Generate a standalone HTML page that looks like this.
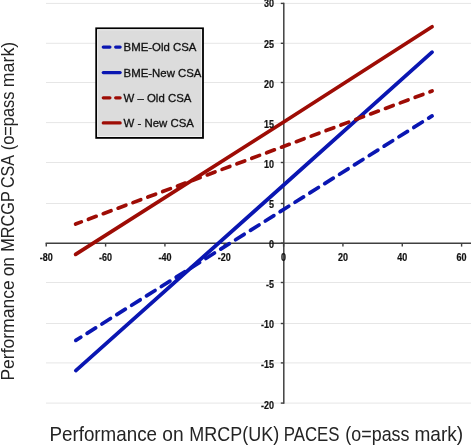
<!DOCTYPE html>
<html><head><meta charset="utf-8"><style>
html,body{margin:0;padding:0;background:#fff;}
body{width:472px;height:445px;overflow:hidden;position:relative;}
svg{position:absolute;left:0;top:0;will-change:transform;}
.t{font-family:"Liberation Sans",sans-serif;font-weight:bold;font-size:10px;fill:#111;stroke:#111;stroke-width:0.2px;}
.lg{font-family:"Liberation Sans",sans-serif;font-size:11.4px;fill:#111;stroke:#111;stroke-width:0.3px;}
.ti{font-family:"Liberation Sans",sans-serif;fill:#242424;}
</style></head><body>
<svg width="472" height="445" viewBox="0 0 472 445">
<line x1="46" y1="3.40" x2="471" y2="3.40" stroke="#e6e6e6" stroke-width="1"/>
<line x1="46" y1="43.30" x2="471" y2="43.30" stroke="#e6e6e6" stroke-width="1"/>
<line x1="46" y1="82.50" x2="471" y2="82.50" stroke="#e6e6e6" stroke-width="1"/>
<line x1="46" y1="122.60" x2="471" y2="122.60" stroke="#e6e6e6" stroke-width="1"/>
<line x1="46" y1="162.50" x2="471" y2="162.50" stroke="#e6e6e6" stroke-width="1"/>
<line x1="46" y1="203.50" x2="471" y2="203.50" stroke="#e6e6e6" stroke-width="1"/>
<line x1="46" y1="282.50" x2="471" y2="282.50" stroke="#e6e6e6" stroke-width="1"/>
<line x1="46" y1="323.50" x2="471" y2="323.50" stroke="#e6e6e6" stroke-width="1"/>
<line x1="46" y1="362.90" x2="471" y2="362.90" stroke="#e6e6e6" stroke-width="1"/>
<line x1="46" y1="403.10" x2="471" y2="403.10" stroke="#e6e6e6" stroke-width="1"/>
<line x1="45.6" y1="243.2" x2="471" y2="243.2" stroke="#404040" stroke-width="1.5"/>
<line x1="283.8" y1="2.80" x2="283.8" y2="403.70" stroke="#404040" stroke-width="1.5"/>
<line x1="280.8" y1="3.40" x2="283.8" y2="3.40" stroke="#404040" stroke-width="1.4"/>
<line x1="280.8" y1="43.30" x2="283.8" y2="43.30" stroke="#404040" stroke-width="1.4"/>
<line x1="280.8" y1="82.50" x2="283.8" y2="82.50" stroke="#404040" stroke-width="1.4"/>
<line x1="280.8" y1="122.60" x2="283.8" y2="122.60" stroke="#404040" stroke-width="1.4"/>
<line x1="280.8" y1="162.50" x2="283.8" y2="162.50" stroke="#404040" stroke-width="1.4"/>
<line x1="280.8" y1="203.50" x2="283.8" y2="203.50" stroke="#404040" stroke-width="1.4"/>
<line x1="280.8" y1="243.10" x2="283.8" y2="243.10" stroke="#404040" stroke-width="1.4"/>
<line x1="280.8" y1="282.50" x2="283.8" y2="282.50" stroke="#404040" stroke-width="1.4"/>
<line x1="280.8" y1="323.50" x2="283.8" y2="323.50" stroke="#404040" stroke-width="1.4"/>
<line x1="280.8" y1="362.90" x2="283.8" y2="362.90" stroke="#404040" stroke-width="1.4"/>
<line x1="280.8" y1="403.10" x2="283.8" y2="403.10" stroke="#404040" stroke-width="1.4"/>
<line x1="46.26" y1="243.2" x2="46.26" y2="246.6" stroke="#404040" stroke-width="1.4"/>
<line x1="105.60" y1="243.2" x2="105.60" y2="246.6" stroke="#404040" stroke-width="1.4"/>
<line x1="164.93" y1="243.2" x2="164.93" y2="246.6" stroke="#404040" stroke-width="1.4"/>
<line x1="224.27" y1="243.2" x2="224.27" y2="246.6" stroke="#404040" stroke-width="1.4"/>
<line x1="283.60" y1="243.2" x2="283.60" y2="246.6" stroke="#404040" stroke-width="1.4"/>
<line x1="342.93" y1="243.2" x2="342.93" y2="246.6" stroke="#404040" stroke-width="1.4"/>
<line x1="402.27" y1="243.2" x2="402.27" y2="246.6" stroke="#404040" stroke-width="1.4"/>
<line x1="461.60" y1="243.2" x2="461.60" y2="246.6" stroke="#404040" stroke-width="1.4"/>
<path d="M75.60,254.40 L283.70,122.00 L432.10,26.80" fill="none" stroke="#9e0c05" stroke-width="3.7" stroke-linecap="round" stroke-linejoin="round"/>
<path d="M75.80,370.60 L283.70,185.00 L432.10,52.20" fill="none" stroke="#0a16b2" stroke-width="3.7" stroke-linecap="round" stroke-linejoin="round"/>
<path d="M75.60,224.00 L81.34,221.86 M88.39,219.23 L96.19,216.32 M103.24,213.69 L111.04,210.78 M118.09,208.15 L125.89,205.24 M132.95,202.61 L140.75,199.70 M147.80,197.06 L155.60,194.16 M162.65,191.52 L170.45,188.61 M177.50,185.98 L185.30,183.07 M192.35,180.44 L200.15,177.53 M207.21,174.90 L215.01,171.99 M222.06,169.36 L229.86,166.45 M236.91,163.82 L244.71,160.91 M251.76,158.28 L259.56,155.37 M266.61,152.74 L274.41,149.83 M281.47,147.20 L289.27,144.29 M296.32,141.66 L304.12,138.75 M311.17,136.12 L318.97,133.21 M326.02,130.57 L333.82,127.66 M340.87,125.03 L348.67,122.12 M355.73,119.49 L363.53,116.58 M370.58,113.95 L378.38,111.04 M385.43,108.41 L393.23,105.50 M400.28,102.87 L408.08,99.96 M415.13,97.33 L422.93,94.42 M429.99,91.79 L432.10,91.00" fill="none" stroke="#9e0c05" stroke-width="3.7" stroke-linecap="round"/>
<path d="M75.80,340.40 L80.80,337.25 M87.05,333.31 L95.65,327.89 M101.90,323.95 L110.50,318.53 M116.75,314.60 L125.35,309.18 M131.61,305.24 L140.21,299.82 M146.46,295.88 L155.06,290.46 M161.31,286.52 L169.91,281.10 M176.16,277.16 L184.76,271.74 M191.01,267.81 L199.61,262.39 M205.87,258.45 L214.47,253.03 M220.72,249.09 L229.32,243.67 M235.57,239.73 L244.17,234.31 M250.42,230.37 L259.02,224.95 M265.27,221.01 L273.87,215.60 M280.13,211.66 L288.73,206.24 M294.98,202.30 L303.58,196.88 M309.83,192.94 L318.43,187.52 M324.68,183.58 L333.28,178.16 M339.53,174.22 L348.13,168.81 M354.39,164.87 L362.99,159.45 M369.24,155.51 L377.84,150.09 M384.09,146.15 L392.69,140.73 M398.94,136.79 L407.54,131.37 M413.79,127.43 L422.39,122.02 M428.65,118.08 L432.10,115.90" fill="none" stroke="#0a16b2" stroke-width="3.7" stroke-linecap="round"/>
<text transform="translate(274.0,6.61) scale(0.9,1)" text-anchor="end" class="t">30</text>
<text transform="translate(274.0,47.70) scale(0.9,1)" text-anchor="end" class="t">25</text>
<text transform="translate(274.0,87.79) scale(0.9,1)" text-anchor="end" class="t">20</text>
<text transform="translate(274.0,127.88) scale(0.9,1)" text-anchor="end" class="t">15</text>
<text transform="translate(274.0,167.97) scale(0.9,1)" text-anchor="end" class="t">10</text>
<text transform="translate(274.0,208.06) scale(0.9,1)" text-anchor="end" class="t">5</text>
<text transform="translate(274.0,248.15) scale(0.9,1)" text-anchor="end" class="t">0</text>
<text transform="translate(274.0,288.24) scale(0.9,1)" text-anchor="end" class="t">-5</text>
<text transform="translate(274.0,328.33) scale(0.9,1)" text-anchor="end" class="t">-10</text>
<text transform="translate(274.0,368.42) scale(0.9,1)" text-anchor="end" class="t">-15</text>
<text transform="translate(274.0,408.51) scale(0.9,1)" text-anchor="end" class="t">-20</text>
<text transform="translate(46.26,260.60) scale(0.9,1)" text-anchor="middle" class="t">-80</text>
<text transform="translate(105.60,260.60) scale(0.9,1)" text-anchor="middle" class="t">-60</text>
<text transform="translate(164.93,260.60) scale(0.9,1)" text-anchor="middle" class="t">-40</text>
<text transform="translate(224.27,260.60) scale(0.9,1)" text-anchor="middle" class="t">-20</text>
<text transform="translate(283.60,260.60) scale(0.9,1)" text-anchor="middle" class="t">0</text>
<text transform="translate(342.93,260.60) scale(0.9,1)" text-anchor="middle" class="t">20</text>
<text transform="translate(402.27,260.60) scale(0.9,1)" text-anchor="middle" class="t">40</text>
<text transform="translate(461.60,260.60) scale(0.9,1)" text-anchor="middle" class="t">60</text>
<rect x="96.2" y="28.3" width="106.80" height="109.60" fill="#dcdcdc" stroke="#000" stroke-width="1.8"/>
<rect x="97.65" y="29.75" width="103.90" height="106.70" fill="none" stroke="#f2f2f2" stroke-width="0.9"/>
<path d="M103.3,47.10 L109.9,47.10 M115.7,47.10 L120.1,47.10" stroke="#0a16b2" stroke-width="3.3" stroke-linecap="round"/>
<text x="123.6" y="51.00" class="lg">BME-Old CSA</text>
<path d="M103.3,72.60 L120.1,72.60" stroke="#0a16b2" stroke-width="3.3" stroke-linecap="round"/>
<text x="123.6" y="76.50" class="lg">BME-New CSA</text>
<path d="M103.3,97.80 L109.9,97.80 M115.7,97.80 L120.1,97.80" stroke="#9e0c05" stroke-width="3.3" stroke-linecap="round"/>
<text x="123.6" y="101.70" class="lg">W – Old CSA</text>
<path d="M103.3,122.90 L120.1,122.90" stroke="#9e0c05" stroke-width="3.3" stroke-linecap="round"/>
<text x="123.6" y="126.80" class="lg">W - New CSA</text>
<text class="ti" font-size="19.85" transform="translate(49.39,440.6) scale(0.9482,1)">Performance</text>
<text class="ti" font-size="19.85" transform="translate(162.23,440.6) scale(0.9675,1)">on</text>
<text class="ti" font-size="19.85" transform="translate(189.36,440.6) scale(0.9059,1)">MRCP(UK)</text>
<text class="ti" font-size="19.85" transform="translate(283.75,440.6) scale(0.8481,1)">PACES</text>
<text class="ti" font-size="19.85" transform="translate(345.33,440.6) scale(0.9022,1)">(o=pass</text>
<text class="ti" font-size="19.85" transform="translate(414.46,440.6) scale(0.9619,1)">mark)</text>
<g transform="translate(13.9,400.0) rotate(-90)">
<text class="ti" font-size="17.5" transform="translate(19.40,0) scale(1.0020,1)">Performance</text>
<text class="ti" font-size="17.5" transform="translate(123.70,0) scale(0.9950,1)">on</text>
<text class="ti" font-size="17.5" transform="translate(148.19,0) scale(0.9327,1)">MRCGP</text>
<text class="ti" font-size="17.5" transform="translate(211.89,0) scale(0.9229,1)">CSA</text>
<text class="ti" font-size="17.5" transform="translate(249.72,0) scale(0.9366,1)">(o=pass</text>
<text class="ti" font-size="17.5" transform="translate(312.85,0) scale(1.0135,1)">mark)</text>
</g>
</svg>
</body></html>
